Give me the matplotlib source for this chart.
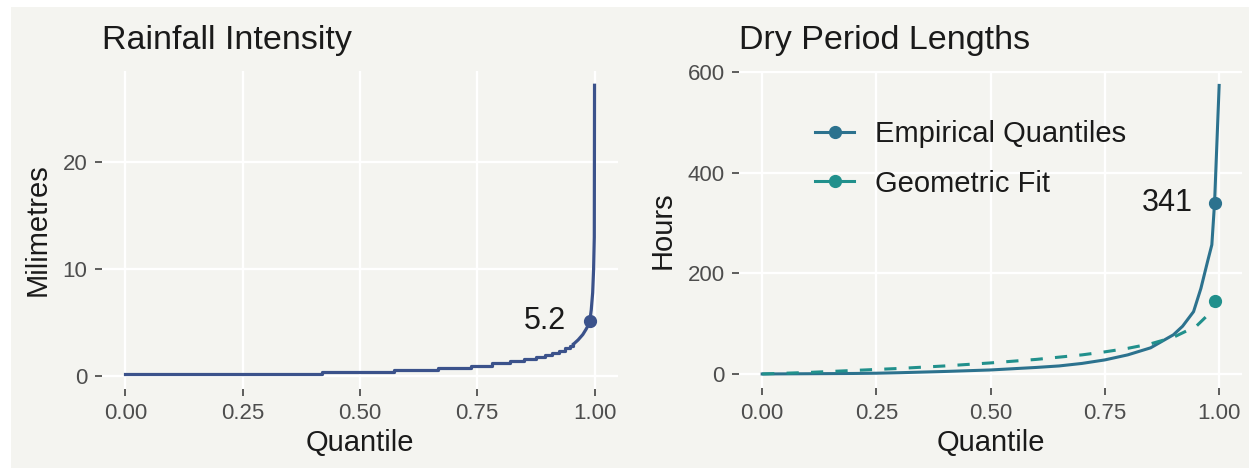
import numpy as np
import matplotlib.pyplot as plt
from matplotlib.patches import Rectangle
from matplotlib.lines import Line2D

plt.rcParams['font.family'] = ['Liberation Sans', 'DejaVu Sans']

# rainfall intensity quantiles (mm), stepped part: value holds from prob onwards
rain_step_p = [0.0, 0.42, 0.572, 0.666, 0.736, 0.781, 0.819, 0.85, 0.875,
               0.895, 0.91, 0.925, 0.937, 0.947, 0.955]
rain_step_mm = [0.2, 0.4, 0.6, 0.8, 1.0, 1.2, 1.4, 1.6, 1.8,
                2.0, 2.2, 2.4, 2.6, 2.8, 3.0]
# upper tail
rain_tail_p = [0.955, 0.965, 0.975, 0.982, 0.987, 0.99, 0.993, 0.996, 0.998, 0.9995, 1.0]
rain_tail_mm = [3.0, 3.4, 3.9, 4.4, 4.8, 5.2, 6.2, 7.8, 10.0, 13.0, 27.2]
rain_q99 = 5.2

# dry period lengths (hours)
dry_p = [0.0, 0.1, 0.2, 0.25, 0.3, 0.4, 0.5, 0.6, 0.65, 0.7, 0.75, 0.8, 0.85,
         0.9, 0.92, 0.944, 0.96, 0.975, 0.984, 0.99, 1.0]
dry_emp = [0, 0.5, 1, 1.5, 2.5, 5, 8, 13, 16, 21, 28, 38, 52,
           78, 95, 124, 170, 225, 257, 341, 574]
geo_p = [0.0, 0.1, 0.2, 0.3, 0.4, 0.5, 0.6, 0.7, 0.75, 0.8, 0.85, 0.9, 0.95, 0.976, 0.99]
geo_fit = [0, 3, 7, 11, 16, 22, 29, 38, 44, 51, 60, 73, 95, 118, 146]
q_mark = 0.99

bg = '#F4F4F0'
c_rain = '#3B528B'
c_emp = '#2C728E'
c_geo = '#21908C'

W, H = 1249, 471
fig = plt.figure(figsize=(W / 100, H / 100), dpi=100, facecolor='white')
fig.patches.append(Rectangle((11 / W, 3 / H), 1238 / W, 461 / H,
                             transform=fig.transFigure, facecolor=bg,
                             edgecolor='none', zorder=-10))


def px_axes(x0, x1, y0, y1):
    return fig.add_axes([x0 / W, 1 - y1 / H, (x1 - x0) / W, (y1 - y0) / H])


def style(ax, yticks):
    ax.set_facecolor('none')
    for s in ax.spines.values():
        s.set_visible(False)
    ax.set_xlim(-0.05, 1.05)
    ax.set_xticks([0, 0.25, 0.5, 0.75, 1.0])
    ax.set_xticklabels(['0.00', '0.25', '0.50', '0.75', '1.00'])
    ax.set_yticks(yticks)
    ax.grid(True, color='white', lw=1.7)
    ax.set_axisbelow(True)
    ax.tick_params(colors='#333333', labelcolor='#4D4D4D', labelsize=16,
                   length=5.3, width=1.1, pad=5)
    ax.set_xlabel('Quantile', fontsize=21, color='#1A1A1A', labelpad=4)


ax1 = px_axes(101.8, 618, 70.8, 388.6)
style(ax1, [0, 10, 20])
ax1.set_ylim(-1.15, 28.55)
ax1.plot(rain_step_p, rain_step_mm, drawstyle='steps-post', color=c_rain, lw=2.3)
ax1.plot(rain_tail_p, rain_tail_mm, color=c_rain, lw=2.3)
ax1.plot([q_mark], [rain_q99], 'o', color=c_rain, ms=8.5)
ax1.annotate(f'{rain_q99:g}', (q_mark, rain_q99), xytext=(-24, 0),
             textcoords='offset pixels', ha='right', va='center',
             fontsize=22, color='#1A1A1A')
ax1.set_ylabel('Milimetres', fontsize=21, color='#1A1A1A', labelpad=8)
ax1.set_title('Rainfall Intensity', loc='left', fontsize=24.5, color='#1A1A1A', pad=16)

ax2 = px_axes(739.3, 1242, 71, 388.4)
style(ax2, [0, 200, 400, 600])
ax2.set_ylim(-28.7, 602.7)
ax2.plot(dry_p, dry_emp, color=c_emp, lw=2.2)
ax2.plot(geo_p, geo_fit, color=c_geo, lw=2.2, dashes=(4, 4))
ax2.plot([q_mark], [dry_emp[dry_p.index(q_mark)]], 'o', color=c_emp, ms=8.5)
ax2.plot([q_mark], [geo_fit[-1]], 'o', color=c_geo, ms=8.5)
ax2.annotate(f'{dry_emp[dry_p.index(q_mark)]:d}', (q_mark, dry_emp[dry_p.index(q_mark)]),
             xytext=(-22, 0), textcoords='offset pixels', ha='right', va='center',
             fontsize=22, color='#1A1A1A')
ax2.set_ylabel('Hours', fontsize=21, color='#1A1A1A', labelpad=8)
ax2.set_title('Dry Period Lengths', loc='left', fontsize=24.5, color='#1A1A1A', pad=16)

handles = [Line2D([], [], color=c_emp, lw=2.2, marker='o', ms=8.5),
           Line2D([], [], color=c_geo, lw=2.2, marker='o', ms=8.5)]
ax2.legend(handles, ['Empirical Quantiles', 'Geometric Fit'], loc='upper left',
           bbox_to_anchor=(815 / W, 1 - 120 / H), bbox_transform=fig.transFigure,
           frameon=False, fontsize=21, handlelength=1.34, handletextpad=0.72,
           labelspacing=0.74, borderpad=0, borderaxespad=0,
           labelcolor='#1A1A1A')

fig.savefig('out.png', dpi=100, facecolor='white')
